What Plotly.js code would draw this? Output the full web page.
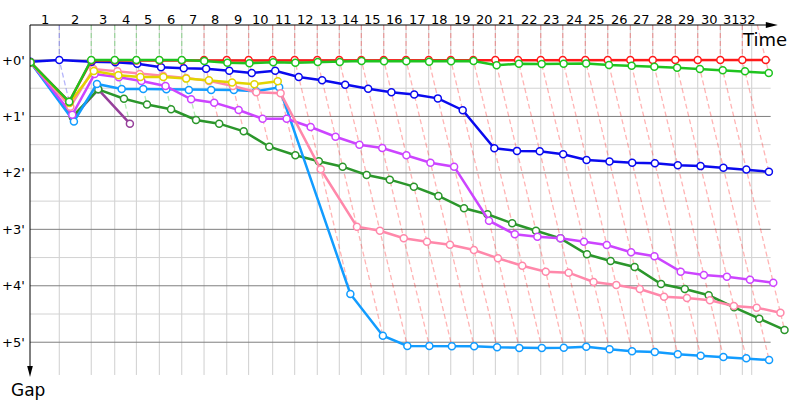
<!DOCTYPE html>
<html><head><meta charset="utf-8">
<script src="https://cdn.plot.ly/plotly-3.0.1.min.js"></script>
<style>html,body{margin:0;padding:0;background:#fff}</style>
</head><body><div id="chart" style="width:800px;height:400px"></div>
<script>
// Leader crossing time at the end of each lap (minutes); index = lap number
const lapTimes = [0, 2.18, 4.56, 6.31, 7.92, 9.63, 11.30, 12.96, 14.65, 16.28, 18.07,
  19.71, 21.39, 23.03, 24.67, 26.34, 28.00, 29.69, 31.33, 33.01, 34.65,
  36.34, 38.03, 39.67, 41.35, 43.02, 44.70, 46.37, 48.05, 49.72, 51.40, 53.04, 54.78];
const raceEnd = 53.74;
const lapLabels = ['1','2','3','4','5','6','7','8','9','10','11','12','13','14','15','16',
  '17','18','19','20','21','22','23','24','25','26','27','28','29','30','31','32'];
const gapTicks = [0, 1, 2, 3, 4, 5];
const gapTickText = ["+0'", "+1'", "+2'", "+3'", "+4'", "+5'"];
const minorTicks = [0.5, 1.5, 2.5, 3.5, 4.5];

// Gap to leader (minutes) at the end of each lap; index = lap number (0 = start)
const gapRed = [0.04, 0.74, 0.01, 0.01, 0.01, 0.01, 0.01, 0, 0, 0, 0, 0, 0, 0, 0, 0, 0,
  0, 0, 0, 0, 0, 0, 0, 0, 0, 0, 0, 0, 0, 0, 0, 0];
const gapGreen = [0.04, 0.74, 0, 0, 0, 0, 0, 0.018, 0.047, 0.059, 0.04, 0.047, 0.035, 0.035,
  0.018, 0.024, 0.024, 0.03, 0.024, 0.018, 0.094, 0.065, 0.071, 0.065, 0.06, 0.089, 0.1,
  0.118, 0.136, 0.16, 0.183, 0.2, 0.23];
const gapBlue = [0.03, 0, 0.03, 0.04, 0.065, 0.13, 0.147, 0.154, 0.19, 0.23, 0.19, 0.30,
  0.36, 0.44, 0.51, 0.57, 0.61, 0.68, 0.89, 1.564, 1.61, 1.617, 1.67, 1.77, 1.80, 1.82,
  1.83, 1.866, 1.88, 1.91, 1.94, 1.98];
const gapYellow = [0.04, 0.76, 0.195, 0.27, 0.30, 0.30, 0.33, 0.36, 0.40, 0.43, 0.377];
const gapPink = [0.04, 0.827, 0.16, 0.2, 0.25, 0.28, 0.32, 0.37, 0.46, 0.57, 0.59, 1.936,
  2.953, 3.024, 3.159, 3.219, 3.272, 3.366, 3.513, 3.644, 3.75, 3.768, 3.933, 3.986, 4.057,
  4.193, 4.216, 4.257, 4.358, 4.388, 4.477];
const gapMagenta = [0.04, 0.97, 0.25, 0.306, 0.372, 0.46, 0.697, 0.756, 0.886, 1.04, 1.04,
  1.187, 1.36, 1.50, 1.559, 1.688, 1.819, 1.89, 2.847, 3.088, 3.13, 3.159, 3.219, 3.277,
  3.407, 3.477, 3.75, 3.809, 3.839, 3.892, 3.945];
const gapCyan = [0.04, 1.09, 0.425, 0.514, 0.514, 0.52, 0.53, 0.53, 0.53, 0.555, 0.484,
  4.145, 4.884, 5.066, 5.066, 5.072, 5.072, 5.09, 5.102, 5.102, 5.097, 5.079, 5.125, 5.16,
  5.173, 5.213, 5.238, 5.261, 5.284, 5.314];
const gapDarkGreen = [0.04, 1.0, 0.52, 0.686, 0.79, 0.873, 1.063, 1.128, 1.263, 1.536,
  1.688, 1.795, 1.89, 2.037, 2.12, 2.244, 2.409, 2.627, 2.733, 2.893, 3.024, 3.159, 3.442,
  3.561, 3.667, 3.968, 4.057, 4.168, 4.381, 4.583, 4.783];
const gapPurple = [0.04, 1.02, 0.52, 1.128];

const driverGaps = [gapPurple, gapDarkGreen, gapCyan, gapMagenta, gapPink, gapYellow, gapBlue, gapRed, gapGreen];
const driverColors = ['#96409a', '#2b962b', '#129cff', '#cc44ff', '#ff88aa', '#e2d400', '#0a0aee', '#ff1a1a', '#1fc41f'];
const lapLineColors = {'#96409a':'rgba(150,64,154,0.3)','#2b962b':'rgba(43,150,43,0.3)',
  '#129cff':'rgba(18,156,255,0.3)','#cc44ff':'rgba(204,68,255,0.3)','#ff88aa':'rgba(255,136,170,0.3)',
  '#e2d400':'rgba(226,212,0,0.3)','#0a0aee':'rgba(10,10,238,0.3)','#ff1a1a':'rgba(255,26,26,0.33)',
  '#1fc41f':'rgba(31,196,31,0.33)'};

const TOP = -0.62, BOTTOM = 5.616, XMAX = 56.59, GRID_END = 55.15, VGRID_BOTTOM = 5.58;
const FONT = 'DejaVu Sans';

const traces = [];
// lap lines (dashed): link every driver's crossing of the same lap
for (let n = 1; n < lapTimes.length; n++) {
  let minG = Infinity, maxG = -Infinity, leadColor = null;
  driverGaps.forEach((g, i) => {
    if (g.length > n) {
      if (g[n] < minG) { minG = g[n]; leadColor = driverColors[i]; }
      if (g[n] > maxG) maxG = g[n];
    }
  });
  const t = lapTimes[n];
  const xTop = t <= raceEnd ? t : t + TOP;
  traces.push({x: [xTop, t + minG, t + maxG], y: [TOP, minG, maxG], mode: 'lines',
    line: {color: lapLineColors[leadColor], width: 1.3, dash: '5px,3px'}, hoverinfo: 'skip', showlegend: false});
}
// drivers
driverGaps.forEach((g, i) => {
  traces.push({x: g.map((v, n) => lapTimes[n] + v), y: g, mode: 'lines+markers',
    line: {color: driverColors[i], width: 2.5},
    marker: {symbol: 'circle', size: 7, color: 'white', line: {color: driverColors[i], width: 1.5}},
    showlegend: false, hoverinfo: 'skip'});
});

const gridTimes = lapTimes.slice(0, 32).concat([raceEnd]);
const shapes = [];
gridTimes.slice(1).forEach(t => shapes.push({type: 'line', layer: 'below', xref: 'x', yref: 'y',
  x0: t, x1: t, y0: TOP, y1: VGRID_BOTTOM, line: {color: '#cfcfcf', width: 1}}));
minorTicks.forEach(v => shapes.push({type: 'line', layer: 'below', xref: 'x', yref: 'y',
  x0: 0, x1: GRID_END, y0: v, y1: v, line: {color: '#d2d2d2', width: 1}}));
gapTicks.forEach(v => shapes.push({type: 'line', layer: 'below', xref: 'x', yref: 'y',
  x0: 0, x1: GRID_END, y0: v, y1: v, line: {color: '#7f7f7f', width: 1}}));
// axes with arrows (paper coordinates, not clipped)
const ARROW_TIP = 0.984;
shapes.push({type: 'line', xref: 'paper', yref: 'paper', x0: 0, x1: ARROW_TIP - 0.01, y0: 1, y1: 1, line: {color: 'black', width: 1}});
shapes.push({type: 'line', xref: 'paper', yref: 'paper', x0: 0, x1: 0, y0: 1, y1: 0.02, line: {color: 'black', width: 1}});
shapes.push({type: 'path', xref: 'paper', yref: 'paper', xsizemode: 'pixel', ysizemode: 'pixel',
  xanchor: ARROW_TIP, yanchor: 1, path: 'M0,0 L-12,3 L-12,-3 Z', fillcolor: 'black', line: {color: 'black', width: 0}});
shapes.push({type: 'path', xref: 'paper', yref: 'paper', xsizemode: 'pixel', ysizemode: 'pixel',
  xanchor: 0, yanchor: 0, path: 'M0,0 L-2.8,11 L2.8,11 Z', fillcolor: 'black', line: {color: 'black', width: 0}});

const annotations = [];
lapLabels.forEach((lab, i) => annotations.push({x: (gridTimes[i] + gridTimes[i + 1]) / 2, y: TOP,
  xref: 'x', yref: 'y', yanchor: 'bottom', yshift: -4, text: lab, showarrow: false,
  font: {family: FONT, size: 13, color: 'black'}}));
gapTicks.forEach((v, i) => annotations.push({x: 0, y: v, xref: 'paper', yref: 'y', xanchor: 'right',
  xshift: -3, text: gapTickText[i], showarrow: false, font: {family: FONT, size: 13, color: 'black'}}));
annotations.push({x: 54.7, y: -0.36, xref: 'x', yref: 'y', text: 'Time', showarrow: false,
  font: {family: FONT, size: 18, color: 'black'}});
annotations.push({x: -0.002, y: -0.036, xref: 'paper', yref: 'paper', xanchor: 'center', yanchor: 'middle',
  text: 'Gap', showarrow: false, font: {family: FONT, size: 17, color: 'black'}});

const layout = {
  width: 800, height: 400, margin: {l: 30, r: 10, t: 25, b: 23},
  paper_bgcolor: 'white', plot_bgcolor: 'white', showlegend: false,
  xaxis: {range: [0, XMAX], showgrid: false, zeroline: false, showticklabels: false, showline: false, ticks: '', fixedrange: true},
  yaxis: {range: [BOTTOM, TOP], showgrid: false, zeroline: false, showticklabels: false, showline: false, ticks: '', fixedrange: true},
  shapes: shapes, annotations: annotations
};
Plotly.newPlot('chart', traces, layout, {displayModeBar: false, staticPlot: true});
</script></body></html>
